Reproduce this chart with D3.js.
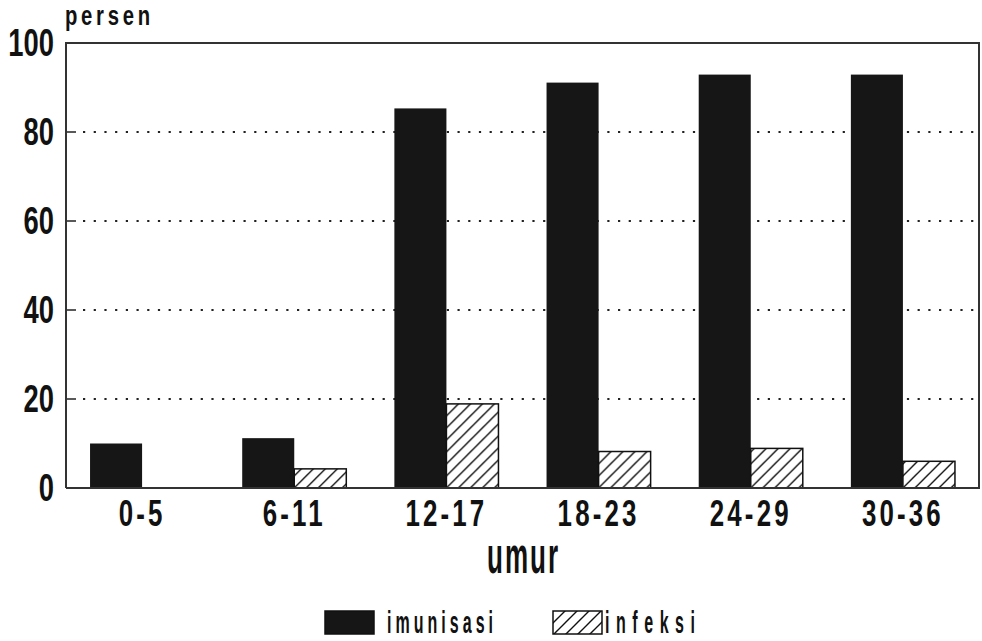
<!DOCTYPE html>
<html>
<head>
<meta charset="utf-8">
<script src="https://cdn.jsdelivr.net/npm/d3@7"></script>
<style>
  body { margin: 0; background: #fff; }
  text { font-family: "Liberation Sans", Arial, sans-serif; font-weight: bold; fill: #111; }
</style>
</head>
<body>
<div id="chart"></div>
<script>
// data
const groups = ["0-5", "6-11", "12-17", "18-23", "24-29", "30-36"];
const imunisasi = [10, 11.2, 85.3, 91.1, 92.9, 92.9];
const infeksi = [0, 4.3, 18.9, 8.2, 8.9, 6.0];
const yTicks = [0, 20, 40, 60, 80, 100];
const seriesNames = ["imunisasi", "infeksi"];

const width = 982, height = 641;
const plotL = 66, plotR = 979, plotT = 43, plotB = 488;

const svg = d3.select("#chart").append("svg")
    .attr("width", width)
    .attr("height", height);

// narrow text: the original uses a condensed face, so squeeze horizontally
function narrow(sel, x, yy, s) {
  return sel.attr("transform", `translate(${x},${yy}) scale(${s},1)`);
}

// hatch pattern for infeksi
const defs = svg.append("defs");
const pat = defs.append("pattern")
    .attr("id", "hatch")
    .attr("patternUnits", "userSpaceOnUse")
    .attr("width", 12)
    .attr("height", 12);
pat.append("rect").attr("width", 12).attr("height", 12).attr("fill", "#fff");
pat.append("path")
    .attr("d", "M-3,3 L3,-3 M0,12 L12,0 M9,15 L15,9")
    .attr("stroke", "#111")
    .attr("stroke-width", 1.4);

const x0 = d3.scaleBand()
    .domain(groups)
    .range([plotL, plotR])
    .paddingInner(0.316)
    .paddingOuter(0.158);

const x1 = d3.scaleBand()
    .domain(seriesNames)
    .range([0, x0.bandwidth()]);

const y = d3.scaleLinear()
    .domain([0, 100])
    .range([plotB, plotT]);

const fills = { imunisasi: "#161616", infeksi: "url(#hatch)" };

// dotted grid lines with short solid tick inside
const grid = svg.append("g");
yTicks.filter(d => d > 0 && d < 100).forEach(d => {
  grid.append("line")
      .attr("x1", plotL + 17).attr("x2", plotR)
      .attr("y1", y(d)).attr("y2", y(d))
      .attr("stroke", "#222")
      .attr("stroke-width", 2.2)
      .attr("stroke-dasharray", "2.2,8.5");
  grid.append("line")
      .attr("x1", plotL).attr("x2", plotL + 10)
      .attr("y1", y(d)).attr("y2", y(d))
      .attr("stroke", "#222")
      .attr("stroke-width", 1.5);
});

// bars
const rows = groups.map((g, i) => ({ group: g, values: [
  { key: "imunisasi", value: imunisasi[i] },
  { key: "infeksi", value: infeksi[i] }
]}));

svg.append("g")
  .selectAll("g")
  .data(rows)
  .join("g")
    .attr("transform", d => `translate(${x0(d.group)},0)`)
  .selectAll("rect")
  .data(d => d.values.filter(v => v.value > 0))
  .join("rect")
    .attr("x", d => x1(d.key))
    .attr("y", d => y(d.value))
    .attr("width", x1.bandwidth())
    .attr("height", d => y(0) - y(d.value))
    .attr("fill", d => fills[d.key])
    .attr("stroke", d => d.key === "infeksi" ? "#111" : "none")
    .attr("stroke-width", 1.5);

// frame
svg.append("path")
    .attr("d", `M${plotL},${plotB} V${plotT} H${plotR} V${plotB} H${plotL}`)
    .attr("fill", "none")
    .attr("stroke", "#333")
    .attr("stroke-width", 2);

// y tick labels
svg.append("g")
  .selectAll("text")
  .data(yTicks)
  .join("text")
    .each(function(d) { narrow(d3.select(this), 54, y(d) + 13, 0.72); })
    .attr("text-anchor", "end")
    .attr("font-size", 38)
    .text(d => d);

narrow(svg.append("text"), 65, 25, 0.75)
    .attr("font-size", 27)
    .attr("textLength", 85 / 0.75)
    .attr("lengthAdjust", "spacing")
    .text("persen");

// x tick labels
svg.append("g")
  .selectAll("text")
  .data(groups)
  .join("text")
    .each(function(d) { narrow(d3.select(this), x0(d) + x0.bandwidth() / 2, 526, 0.7); })
    .attr("text-anchor", "middle")
    .attr("font-size", 37)
    .attr("letter-spacing", 4.5)
    .text(d => d);

narrow(svg.append("text"), (plotL + plotR) / 2, 573, 0.5)
    .attr("text-anchor", "middle")
    .attr("font-size", 52)
    .attr("textLength", 71 / 0.5)
    .attr("lengthAdjust", "spacing")
    .text("umur");

// legend
const legend = [
  { key: "imunisasi", rx: 325, tx: 387, tl: 106 },
  { key: "infeksi", rx: 553, tx: 605, tl: 90 }
];
legend.forEach(l => {
  svg.append("rect")
      .attr("x", l.rx).attr("y", 611)
      .attr("width", 49).attr("height", 23)
      .attr("fill", fills[l.key])
      .attr("stroke", "#111")
      .attr("stroke-width", 1.5);
  narrow(svg.append("text"), l.tx, 633, 0.5)
      .attr("font-size", 32)
      .attr("textLength", l.tl / 0.5)
      .attr("lengthAdjust", "spacing")
      .text(l.key);
});
</script>
</body>
</html>
